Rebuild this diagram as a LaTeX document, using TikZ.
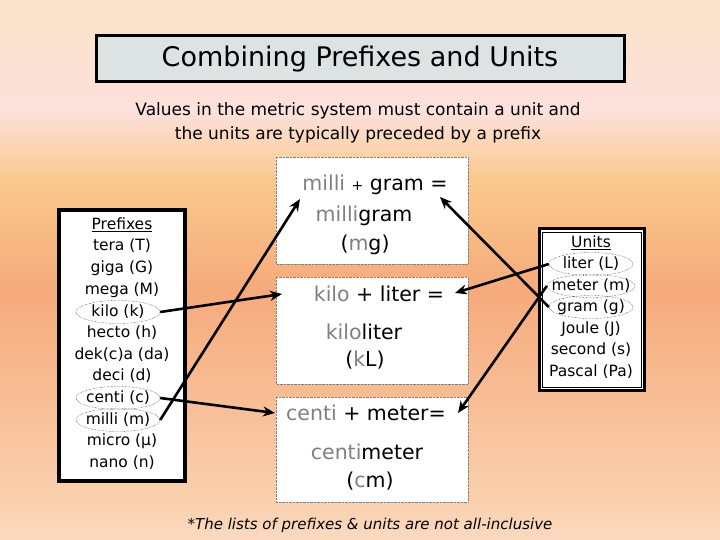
\documentclass[tikz,border=0pt]{standalone}
\usepackage{fontspec}
\setmainfont{DejaVu Sans}
\usetikzlibrary{shapes.geometric,arrows.meta}
\definecolor{b0}{HTML}{FBD9BF}
\definecolor{b1}{HTML}{FAD0AE}
\definecolor{b2}{HTML}{F6AA7C}
\definecolor{b3}{HTML}{F9C98C}
\definecolor{b4}{HTML}{FDE1DC}
\definecolor{b5}{HTML}{FBE2C8}
\definecolor{titlefill}{HTML}{DDE3E3}
\definecolor{pregrey}{HTML}{808080}
\tikzset{
  lst/.style={font=\fontsize{15.5}{18}\selectfont, inner sep=0pt, anchor=center},
  cmb/.style={font=\fontsize{20.5}{24}\selectfont, inner sep=0pt, anchor=center},
  oval/.style={ellipse, draw, densely dotted, thin, minimum height=23pt, inner sep=0pt},
  combo/.style={draw=gray, densely dotted, fill=white},
  arr/.style={-{Stealth[length=12pt,width=10pt]}, line width=2.6pt},
  band/.style={draw=none}
}
\begin{document}
\begin{tikzpicture}[x=1pt,y=-1pt]
\useasboundingbox (0,0) rectangle (720,540);
\shade[band, top color=b5, bottom color=b4] (0,0) rectangle (720,110.5);
\shade[band, top color=b4, bottom color=b3] (0,110) rectangle (720,180.5);
\shade[band, top color=b3, bottom color=b2] (0,180) rectangle (720,290.5);
\shade[band, top color=b2, bottom color=b1] (0,290) rectangle (720,500.5);
\shade[band, top color=b1, bottom color=b0] (0,500) rectangle (720,540);
% title
\node[draw, line width=3pt, fill=titlefill, minimum width=528pt, minimum height=46pt, font=\fontsize{27}{30}\selectfont] (title) at (360,59) {Combining Prefixes and Units};
\node[align=center, font=\fontsize{17}{24}\selectfont] (sub) at (358,123) {Values in the metric system must contain a unit and\\the units are typically preceded by a prefix};
% prefixes box
\draw[line width=4pt, fill=white] (59,210) rectangle (185,481);
\node[lst] (ph) at (122,225) {\underline{Prefixes}};
\node[lst] (p1) at (122,246) {tera (T)};
\node[lst] (p2) at (122,268) {giga (G)};
\node[lst] (p3) at (122,290) {mega (M)};
\node[lst] (p4) at (118,312) {kilo (k)};
\node[lst] (p5) at (122,333) {hecto (h)};
\node[lst] (p6) at (122,355) {dek(c)a (da)};
\node[lst] (p7) at (122,376) {deci (d)};
\node[lst] (p8) at (118,398) {centi (c)};
\node[lst] (p9) at (118,420) {milli (m)};
\node[lst] (p10) at (122,441) {micro (µ)};
\node[lst] (p11) at (122,463) {nano (n)};
\node[oval, minimum width=84pt] (ok) at (118,312) {};
\node[oval, minimum width=84pt] (oc) at (118,398) {};
\node[oval, minimum width=84pt] (om) at (118,420) {};
% units box
\draw[line width=3pt, fill=white] (539,229) rectangle (644,390);
\draw[thin] (542,232) rectangle (641,387);
\node[lst] (uh) at (591,243) {\underline{Units}};
\node[lst] (u1) at (591,264) {liter (L)};
\node[lst] (u2) at (591,286) {meter (m)};
\node[lst] (u3) at (591,307) {gram (g)};
\node[lst] (u4) at (591,329) {Joule (J)};
\node[lst] (u5) at (591,350) {second (s)};
\node[lst] (u6) at (591,372) {Pascal (Pa)};
\node[oval, minimum width=84pt] (ol) at (591,264) {};
\node[oval, minimum width=88pt] (ome) at (591,286) {};
\node[oval, minimum width=84pt] (og) at (591,307) {};
% combination boxes
\draw[combo] (276,157) rectangle (468,264);
\draw[combo] (276,277) rectangle (468,384);
\draw[combo] (276,397) rectangle (468,502);
\node[cmb] (c1a) at (375,185) {\textcolor{pregrey}{milli} {\fontsize{14}{14}\selectfont+} gram =};
\node[cmb] (c1b) at (364,216) {\textcolor{pregrey}{milli}gram};
\node[cmb] (c1c) at (365,245) {(\textcolor{pregrey}{m}g)};
\node[cmb] (c2a) at (379,294) {\textcolor{pregrey}{kilo} + liter =};
\node[cmb] (c2b) at (364,332) {\textcolor{pregrey}{kilo}liter};
\node[cmb] (c2c) at (365,360) {(\textcolor{pregrey}{k}L)};
\node[cmb] (c3a) at (366,413) {\textcolor{pregrey}{centi} + meter=};
\node[cmb] (c3b) at (367,452) {\textcolor{pregrey}{centi}meter};
\node[cmb] (c3c) at (370,481) {(\textcolor{pregrey}{c}m)};
% arrows
\coordinate (t1) at (300,199);
\coordinate (t2) at (282,294);
\coordinate (t3) at (275,413);
\coordinate (t4) at (455,293);
\coordinate (t5) at (440,197);
\coordinate (t6) at (458,413);
\draw[arr] (om.east) -- (t1);
\draw[arr] (ok.east) -- (t2);
\draw[arr] (oc.east) -- (t3);
\draw[arr] (ol.west) -- (t4);
\draw[arr] (og.west) -- (t5);
\draw[arr] (ome.west) -- (t6);
% footer
\node[font=\itshape\fontsize{15}{17}\selectfont] (foot) at (370,525) {*The lists of prefixes \& units are not all-inclusive};
\end{tikzpicture}
\end{document}
